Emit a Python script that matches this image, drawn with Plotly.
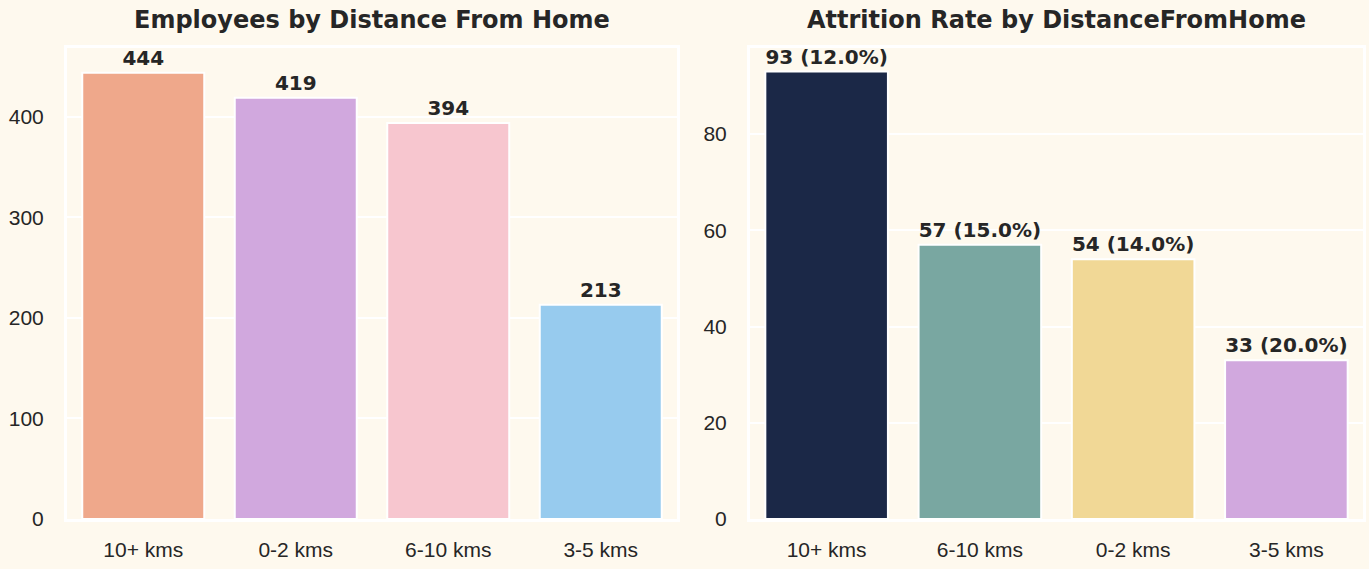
import plotly.graph_objects as go
from plotly.subplots import make_subplots

# left chart: employee counts
dist_left = ["10+ kms", "0-2 kms", "6-10 kms", "3-5 kms"]
count_left = [444, 419, 394, 213]
colors_left = ["#EFA88B", "#D1A8DE", "#F7C6CF", "#97CBEE"]

# right chart: attrition counts and rates
dist_right = ["10+ kms", "6-10 kms", "0-2 kms", "3-5 kms"]
count_right = [93, 57, 54, 33]
rate_right = [12.0, 15.0, 14.0, 20.0]
colors_right = ["#1B2847", "#79A7A1", "#F1D896", "#D1A8DE"]

bg = "#FEF9EE"
ink = "#262626"
tick_font = "Liberation Sans"
bold_font = "DejaVu Sans"

W, H = 1369, 569

def px_x(a, b):
    return [a / W, b / W]

def px_y(top, bottom):
    return [(H - bottom) / H, (H - top) / H]

fig = make_subplots(rows=1, cols=2)

fig.add_trace(
    go.Bar(
        x=dist_left,
        y=count_left,
        marker=dict(color=colors_left, line=dict(color="white", width=2)),
        width=0.8,
        text=[str(v) for v in count_left],
        textposition="outside",
        cliponaxis=False,
        textfont=dict(family=bold_font, size=20, color=ink, weight="bold"),
        showlegend=False,
    ),
    1, 1,
)

fig.add_trace(
    go.Bar(
        x=dist_right,
        y=count_right,
        marker=dict(color=colors_right, line=dict(color="white", width=2)),
        width=0.8,
        text=[f"{c} ({r:.1f}%)" for c, r in zip(count_right, rate_right)],
        textposition="outside",
        cliponaxis=False,
        textfont=dict(family=bold_font, size=20, color=ink, weight="bold"),
        showlegend=False,
    ),
    1, 2,
)

axis_common = dict(
    showline=True, linecolor="white", linewidth=3, mirror=True,
    gridcolor="white", gridwidth=2, zeroline=False, automargin=False,
    tickfont=dict(family=tick_font, size=21, color=ink),
)

fig.update_xaxes(**axis_common)
fig.update_yaxes(**axis_common)
fig.update_xaxes(showgrid=False, ticks="outside", ticklen=10, tickcolor="rgba(0,0,0,0)")
fig.update_yaxes(ticks="outside", ticklen=16, tickcolor="rgba(0,0,0,0)")

title_font = dict(family=bold_font, size=24, color=ink, weight="bold")

fig.update_layout(
    width=W, height=H,
    margin=dict(l=0, r=0, t=0, b=0, pad=0, autoexpand=False),
    paper_bgcolor=bg,
    plot_bgcolor=bg,
    font=dict(family=tick_font, color=ink),
    xaxis=dict(domain=px_x(67, 677), range=[-0.5, 3.5]),
    xaxis2=dict(domain=px_x(750, 1363), range=[-0.5, 3.5]),
    yaxis=dict(domain=px_y(48, 519), range=[0, 468.5], tickvals=[0, 100, 200, 300, 400]),
    yaxis2=dict(domain=px_y(48, 519), range=[0, 97.9], tickvals=[0, 20, 40, 60, 80]),
    annotations=[
        dict(text="Employees by Distance From Home", x=372 / W, y=(H - 20) / H,
             xref="paper", yref="paper", xanchor="center", yanchor="middle",
             showarrow=False, font=title_font),
        dict(text="Attrition Rate by DistanceFromHome", x=1056 / W, y=(H - 20) / H,
             xref="paper", yref="paper", xanchor="center", yanchor="middle",
             showarrow=False, font=title_font),
    ],
)

page_css = (
    "document.documentElement.style.overflow='hidden';"
    "document.body.style.margin='0';"
    "document.body.style.overflow='hidden';"
    "document.body.style.height='569px';"
    "document.body.style.background='" + bg + "';"
)

fig.write_html("out.html", config={"displayModeBar": False}, post_script=page_css)
